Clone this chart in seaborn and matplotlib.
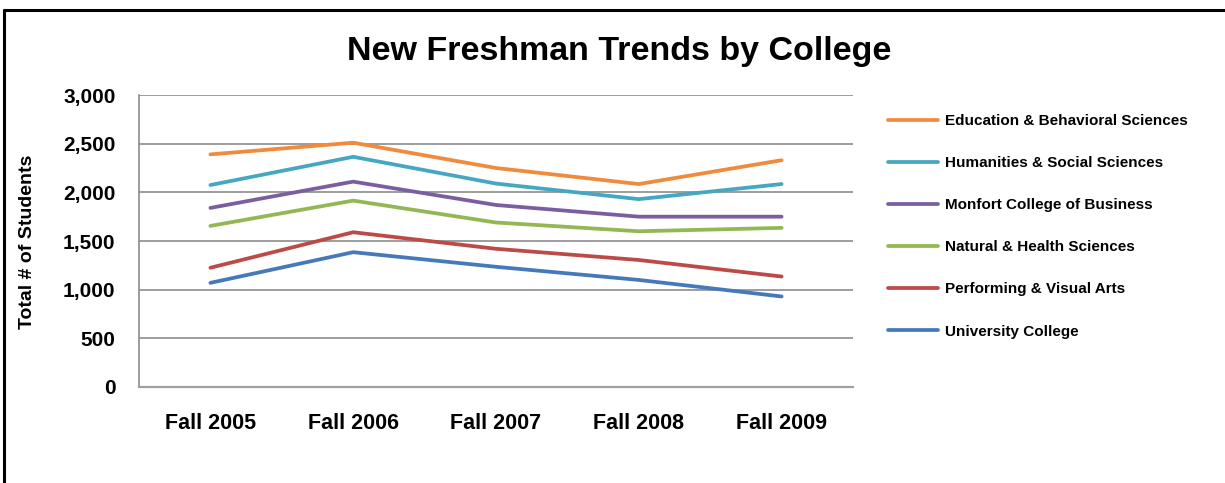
import matplotlib
matplotlib.use("Agg")
import matplotlib.pyplot as plt
from matplotlib.lines import Line2D
import pandas as pd
import seaborn as sns

# Freshman enrolment by college, fall terms
terms = ["Fall 2005", "Fall 2006", "Fall 2007", "Fall 2008", "Fall 2009"]
colleges = [
    "Education & Behavioral Sciences",
    "Humanities & Social Sciences",
    "Monfort College of Business",
    "Natural & Health Sciences",
    "Performing & Visual Arts",
    "University College",
]
education = [2390, 2510, 2250, 2085, 2330]
humanities = [2075, 2365, 2090, 1930, 2085]
monfort = [1840, 2110, 1870, 1750, 1750]
natural = [1655, 1915, 1690, 1600, 1635]
performing = [1225, 1590, 1420, 1305, 1135]
university = [1070, 1385, 1235, 1100, 930]

colors = ["#F08A3C", "#45A7C2", "#7B5EA0", "#93B853", "#BC4A47", "#4679B9"]

series = [education, humanities, monfort, natural, performing, university]
df = pd.DataFrame(
    [(t, c, v) for c, vals in zip(colleges, series) for t, v in zip(terms, vals)],
    columns=["term", "college", "students"],
)

sns.set_style("white")
plt.rcParams["font.family"] = ["Liberation Sans", "DejaVu Sans"]
plt.rcParams["font.weight"] = "bold"
plt.rcParams["text.color"] = "black"
plt.rcParams["xtick.color"] = "black"
plt.rcParams["ytick.color"] = "black"

fig = plt.figure(figsize=(12.25, 4.83), dpi=100)
ax = fig.add_axes([139 / 1225, 1 - 387 / 483, 714 / 1225, 292 / 483])

sns.lineplot(
    data=df, x="term", y="students", hue="college", hue_order=colleges,
    palette=dict(zip(colleges, colors)), sort=False, linewidth=2.7,
    ax=ax, legend=False,
)

ax.set_xlim(-0.5, len(terms) - 0.5)
ax.set_ylim(0, 3000)
ax.set_yticks(range(0, 3001, 500))
ax.set_yticklabels([f"{v:,}" for v in range(0, 3001, 500)])
ax.grid(axis="y", color="#8C8C8C", linewidth=1.2)
ax.set_axisbelow(True)
for side in ["top", "right"]:
    ax.spines[side].set_visible(False)
ax.spines["left"].set_color("#8C8C8C")
ax.spines["left"].set_linewidth(1.2)
ax.spines["bottom"].set_color("#A0A0A0")
ax.spines["bottom"].set_linewidth(1.6)
ax.tick_params(axis="y", length=0, pad=17, labelsize=15, labelcolor="black")
ax.tick_params(axis="x", length=0, pad=19, labelsize=15.5, labelcolor="black")
for lab in ax.get_xticklabels() + ax.get_yticklabels():
    lab.set_fontweight("bold")
ax.set_xlabel("")
ax.set_ylabel("")

fig.text(619 / 1225, 1 - 60 / 483, "New Freshman Trends by College",
         ha="center", va="baseline", fontsize=24.5, fontweight="bold",
         color="black")
fig.text(28 / 1225, 1 - 242 / 483, "Total # of Students", rotation=90,
         ha="center", va="center", fontsize=14, fontweight="bold",
         color="black")

handles = [Line2D([0], [0], color=c, linewidth=2.7) for c in colors]
fig.legend(handles, colleges, loc="upper left",
           bbox_to_anchor=(888 / 1225, 1 - 114 / 483), frameon=False,
           handlelength=3.3, handletextpad=0.45,
           labelspacing=1.84, borderpad=0, borderaxespad=0,
           prop={"weight": "bold", "size": 11}, labelcolor="black")

# outer frame of the chart area
fig.add_artist(Line2D([4 / 1225, 4 / 1225], [0, 1 - 10 / 483],
                      color="black", linewidth=2.2, transform=fig.transFigure))
fig.add_artist(Line2D([4 / 1225, 1], [1 - 10 / 483, 1 - 10 / 483],
                      color="black", linewidth=2.2, transform=fig.transFigure))

fig.savefig("out.png", dpi=100, facecolor="white")
